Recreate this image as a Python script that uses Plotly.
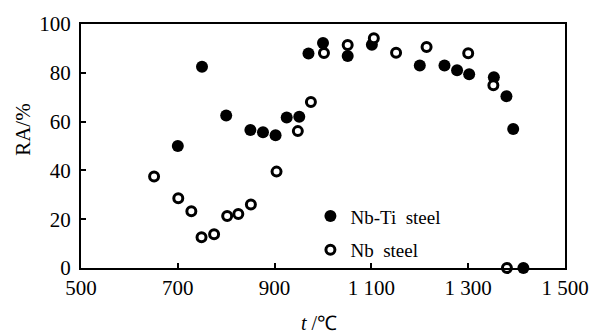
import plotly.graph_objects as go

# Nb-Ti steel (filled circles)
nbti_t = [700, 750, 800, 850, 876, 902, 925, 951, 970, 1000, 1051, 1101, 1200, 1251, 1277, 1302, 1353, 1379, 1393, 1414]
nbti_ra = [50, 82.5, 62.5, 56.6, 55.6, 54.4, 61.7, 62, 87.9, 92.2, 86.9, 91.5, 83, 83, 81, 79.4, 78.2, 70.4, 57, 0]

# Nb steel (open circles)
nb_t = [651, 701, 728, 749, 775, 802, 825, 851, 904, 948, 975, 1002, 1051, 1105, 1151, 1214, 1300, 1352, 1380]
nb_ra = [37.5, 28.6, 23.3, 12.6, 13.8, 21.3, 22.1, 26, 39.5, 56.1, 68, 88.1, 91.4, 94.2, 88.2, 90.6, 88, 74.9, 0]

x_ticks = [500, 700, 900, 1100, 1300, 1500]
x_ticklabels = ["500", "700", "900", "1 100", "1 300", "1 500"]
y_ticks = [0, 20, 40, 60, 80, 100]

FONT = "Liberation Serif, Times New Roman, serif"

fig = go.Figure()
fig.add_trace(go.Scatter(
    x=nbti_t, y=nbti_ra, mode="markers", name="Nb-Ti\u00a0 steel",
    marker=dict(symbol="circle", size=12, color="black", line=dict(width=0)),
    cliponaxis=False, legendrank=1, legendgroup="a",
))
fig.add_trace(go.Scatter(
    x=nb_t, y=nb_ra, mode="markers", name="Nb\u00a0 steel",
    marker=dict(symbol="circle", size=9, color="white", line=dict(width=3, color="black")),
    cliponaxis=False, legendrank=2, legendgroup="b",
))

axis_common = dict(
    showline=True, mirror=True, linecolor="black", linewidth=2,
    ticks="inside", ticklen=5, tickwidth=2, tickcolor="black",
    showgrid=False, zeroline=False,
    tickfont=dict(family=FONT, size=21, color="black"),
)

fig.update_layout(
    width=601, height=335,
    margin=dict(l=81, r=29, t=17, b=67),
    paper_bgcolor="white", plot_bgcolor="white",
    font=dict(family=FONT, color="black"),
    showlegend=True,
    legend=dict(
        x=0.474, y=0.29, xanchor="left", yanchor="top",
        bgcolor="rgba(0,0,0,0)", borderwidth=0,
        font=dict(family=FONT, size=19, color="black"),
        tracegroupgap=6, itemwidth=30,
    ),
    xaxis=dict(range=[500, 1500], tickvals=x_ticks, ticktext=x_ticklabels, **axis_common),
    yaxis=dict(range=[0, 100], tickvals=y_ticks, ticklabelstandoff=4, **axis_common),
    annotations=[
        dict(text="RA/%", textangle=-90, xref="paper", yref="paper",
             x=-0.12, y=0.57, xanchor="center", yanchor="middle", showarrow=False,
             font=dict(family=FONT, size=21, color="black")),
        dict(text="<i>t</i> /℃", xref="paper", yref="paper",
             x=0.491, y=-0.225, xanchor="center", yanchor="middle", showarrow=False,
             font=dict(family=FONT, size=20, color="black")),
    ],
)

fig.write_html("out.html", config={"displayModeBar": False},
               post_script="document.body.style.margin='0';")
